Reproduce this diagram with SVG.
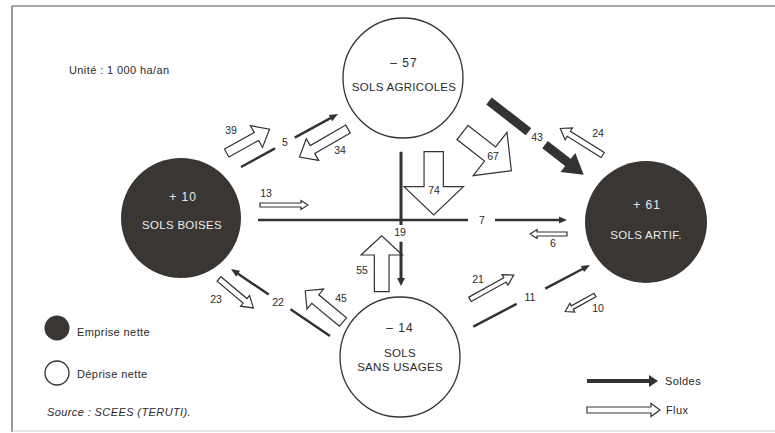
<svg xmlns="http://www.w3.org/2000/svg" width="775" height="433" viewBox="0 0 775 433">
<style>
text{font-family:"Liberation Sans",Arial,Helvetica,sans-serif;fill:#2a2a2a}
.lbl{font-size:10.5px;text-anchor:middle;dominant-baseline:central}
.ct{font-size:11.5px;text-anchor:middle;letter-spacing:0.3px;dominant-baseline:central}
.num{font-size:12px;text-anchor:middle;letter-spacing:1px;dominant-baseline:central}
.dark{fill:#3a3633}
.light{fill:#fff;stroke:#333;stroke-width:1.3}
.wt{fill:#ececec}
.flux{fill:#fff;stroke:#333;stroke-width:1.2;stroke-linejoin:miter}
.sol{stroke:#333;stroke-width:2.5;fill:none}
.head{fill:#333}
.leg{font-size:11px;letter-spacing:0.4px;dominant-baseline:central}
.frame{stroke:#555;stroke-width:1.2;fill:none}
</style>

<g id="frame">
<path class="frame" d="M12,6 H775 M12,6 V432"/>
<path d="M12,431 H775" stroke="#ccc" stroke-width="1" fill="none"/>
</g>

<text x="69" y="70" class="leg">Unité : 1 000 ha/an</text>

<g id="sols-agricoles">
<circle cx="403" cy="78" r="60" class="light"/>
<text x="404" y="63" class="num">– 57</text>
<text x="404" y="87" class="ct">SOLS AGRICOLES</text>
</g>

<g id="sols-boises">
<circle cx="181" cy="218" r="60" class="dark"/>
<text x="183" y="197" class="num wt">+ 10</text>
<text x="182" y="225" class="ct wt">SOLS BOISES</text>
</g>

<g id="sols-artif">
<circle cx="646" cy="222" r="61" class="dark"/>
<text x="647" y="205" class="num wt">+ 61</text>
<text x="646" y="235" class="ct wt">SOLS ARTIF.</text>
</g>

<g id="sols-sans-usages">
<circle cx="400" cy="357" r="60" class="light"/>
<text x="400" y="328" class="num">– 14</text>
<text x="400" y="353" class="ct">SOLS</text>
<text x="400" y="367" class="ct">SANS USAGES</text>
</g>

<g id="connectors">
<!-- flux (hollow arrows) -->
<polygon class="flux" transform="translate(226.7,153) rotate(-29)" points="0,-4.5 34,-4.5 34,-12.5 49,0 34,12.5 34,4.5 0,4.5"/>
<polygon class="flux" transform="translate(348,129) rotate(150)" points="0,-4.5 41,-4.5 41,-12.5 56,0 41,12.5 41,4.5 0,4.5"/>
<polygon class="flux" transform="translate(260,205)" points="0,-2 41,-2 41,-4.5 48,0 41,4.5 41,2 0,2"/>
<polygon class="flux" transform="translate(567,234) rotate(180)" points="0,-2 30,-2 30,-4.5 37,0 30,4.5 30,2 0,2"/>
<polygon class="flux" transform="translate(433.7,151.7) rotate(90)" points="0,-9.65 35,-9.65 35,-29.7 63.3,0 35,29.7 35,9.65 0,9.65"/>
<polygon class="flux" transform="translate(381.7,291.7) rotate(-90)" points="0,-7.35 36.7,-7.35 36.7,-20.7 56,0 36.7,20.7 36.7,7.35 0,7.35"/>
<polygon class="flux" transform="translate(462.5,132.5) rotate(38)" points="0,-9 35,-9 35,-27.5 62,0 35,27.5 35,9 0,9"/>
<polygon class="flux" transform="translate(602.7,155) rotate(212)" points="0,-3 40,-3 40,-7 50,0 40,7 40,3 0,3"/>
<polygon class="flux" transform="translate(219,279) rotate(40)" points="0,-3 34,-3 34,-7 45,0 34,7 34,3 0,3"/>
<polygon class="flux" transform="translate(343,322) rotate(219.6)" points="0,-5.5 36,-5.5 36,-13 49,0 36,13 36,5.5 0,5.5"/>
<polygon class="flux" transform="translate(470,299.3) rotate(-29)" points="0,-2.5 40,-2.5 40,-6 50,0 40,6 40,2.5 0,2.5"/>
<polygon class="flux" transform="translate(595,295) rotate(151)" points="0,-2 26,-2 26,-5 34,0 26,5 26,2 0,2"/>

<!-- soldes (dark arrows) -->
<g transform="translate(241,167) rotate(-28.65)">
<path class="sol" d="M0,0 H38.8 M61.2,0 H103"/>
<polygon class="head" points="102,-3.5 110.5,0 102,3.5"/>
</g>
<path class="sol" d="M258,220 H468 M495,220 H560"/>
<polygon class="head" points="559,216.5 567,220 559,223.5"/>
<path class="sol" d="M401,151.7 V225 M401,241.7 V279" style="stroke-width:3"/>
<polygon class="head" points="397,278 401,286 405,278"/>
<g transform="translate(489,101) rotate(37.9)">
<path class="sol" style="stroke-width:9" d="M0,0 H50 M71,0 H102"/>
<polygon class="head" points="100,-12 120,0 100,12"/>
</g>
<g transform="translate(330,336) rotate(214.1)">
<path class="sol" d="M0,0 H47.7 M74,0 H112"/>
<polygon class="head" points="111,-3.5 119.5,0 111,3.5"/>
</g>
<g transform="translate(473.3,326.7) rotate(-27.86)">
<path class="sol" d="M0,0 H49 M81.3,0 H124"/>
<polygon class="head" points="123.5,-3.5 132,0 123.5,3.5"/>
</g>

<!-- labels -->
<text x="231" y="130" class="lbl">39</text>
<text x="285" y="142" class="lbl">5</text>
<text x="340" y="150" class="lbl">34</text>
<text x="266" y="193" class="lbl">13</text>
<text x="434" y="190" class="lbl">74</text>
<text x="493" y="156" class="lbl">67</text>
<text x="537" y="137" class="lbl">43</text>
<text x="598" y="133" class="lbl">24</text>
<text x="482" y="220" class="lbl">7</text>
<text x="400" y="232" class="lbl">19</text>
<text x="553" y="243" class="lbl">6</text>
<text x="362" y="270" class="lbl">55</text>
<text x="478" y="279" class="lbl">21</text>
<text x="530" y="297" class="lbl">11</text>
<text x="598" y="308" class="lbl">10</text>
<text x="216" y="299" class="lbl">23</text>
<text x="278" y="302" class="lbl">22</text>
<text x="341" y="298" class="lbl">45</text>
</g>

<g id="legend">
<circle cx="57" cy="328" r="12.5" class="dark"/>
<text x="77" y="332" class="leg">Emprise nette</text>
<circle cx="57" cy="373" r="12" class="light"/>
<text x="77" y="374" class="leg">Déprise nette</text>
<text x="47" y="412" class="leg" style="font-style:italic">Source : SCEES (TERUTI).</text>
<path d="M587,381 H650" stroke="#333" stroke-width="4"/>
<polygon class="head" points="649,375 658,381 649,387"/>
<text x="665" y="381" class="leg">Soldes</text>
<polygon class="flux" transform="translate(587,410)" points="0,-3 64,-3 64,-6.5 73,0 64,6.5 64,3 0,3"/>
<text x="666" y="410" class="leg">Flux</text>
</g>
</svg>
